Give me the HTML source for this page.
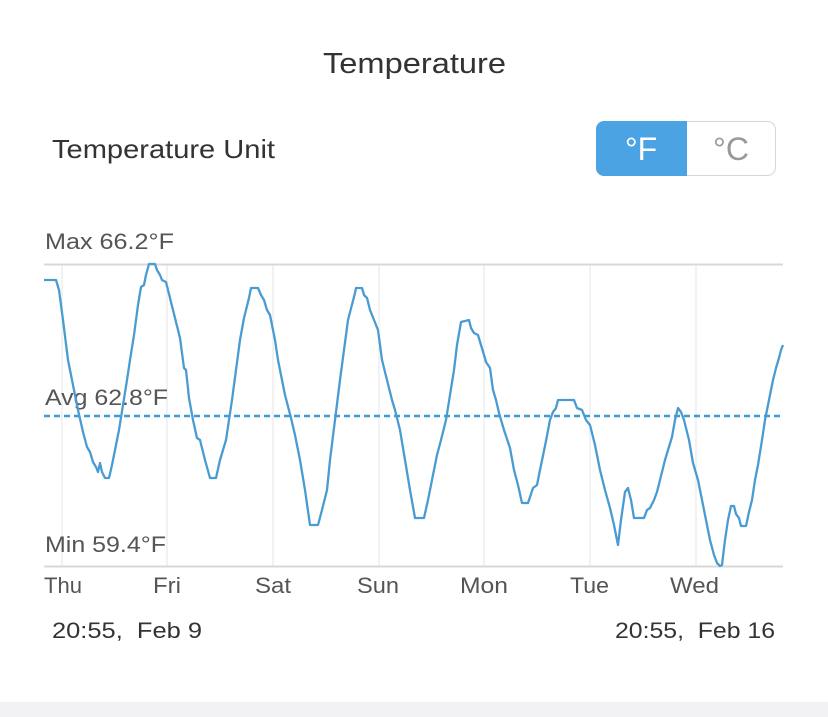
<!DOCTYPE html>
<html><head><meta charset="utf-8"><style>
html,body{margin:0;padding:0;background:#fff;}
body{width:828px;height:717px;position:relative;overflow:hidden;font-family:"Liberation Sans",sans-serif;}
</style></head><body>
<svg width="828" height="717" viewBox="0 0 828 717" xmlns="http://www.w3.org/2000/svg" style="position:absolute;left:0;top:0">
<rect x="0" y="702" width="828" height="15" fill="#f2f2f4"/>
<text x="323" y="73" textLength="183" lengthAdjust="spacingAndGlyphs" font-family="Liberation Sans, sans-serif" font-size="29" fill="#333">Temperature</text>
<text x="52" y="158" textLength="223" lengthAdjust="spacingAndGlyphs" font-family="Liberation Sans, sans-serif" font-size="26" fill="#333">Temperature Unit</text>
<rect x="596.5" y="121.5" width="179" height="54" rx="8" fill="#fff" stroke="#d6d6d6"/>
<path d="M604 121 H687 V176 H604 A8 8 0 0 1 596 168 V129 A8 8 0 0 1 604 121 Z" fill="#4ba3e3"/>
<text x="641" y="160" text-anchor="middle" font-family="Liberation Sans, sans-serif" font-size="32" fill="#fff">°F</text>
<text x="731" y="160" text-anchor="middle" font-family="Liberation Sans, sans-serif" font-size="32" fill="#999">°C</text>
<g stroke="#e6e6e6" stroke-width="1">
<line x1="62" y1="264" x2="62" y2="566"/><line x1="167" y1="264" x2="167" y2="566"/><line x1="273" y1="264" x2="273" y2="566"/><line x1="379" y1="264" x2="379" y2="566"/><line x1="484" y1="264" x2="484" y2="566"/><line x1="590" y1="264" x2="590" y2="566"/><line x1="696" y1="264" x2="696" y2="566"/>
</g>
<line x1="44" y1="264.5" x2="783" y2="264.5" stroke="#d8d8d8" stroke-width="2"/>
<line x1="44" y1="566.5" x2="783" y2="566.5" stroke="#d8d8d8" stroke-width="2"/>
<line x1="44" y1="416" x2="783" y2="416" stroke="#3d9bd6" stroke-width="2.5" stroke-dasharray="6,4"/>
<g font-family="Liberation Sans, sans-serif" font-size="22" fill="#555" lengthAdjust="spacingAndGlyphs">
<text x="45" y="249" textLength="129" lengthAdjust="spacingAndGlyphs">Max 66.2°F</text>
<text x="45" y="405" textLength="123" lengthAdjust="spacingAndGlyphs">Avg 62.8°F</text>
<text x="45" y="552" textLength="121" lengthAdjust="spacingAndGlyphs">Min 59.4°F</text>
<text x="44" y="593" textLength="38" lengthAdjust="spacingAndGlyphs">Thu</text>
<text x="153" y="593" textLength="28" lengthAdjust="spacingAndGlyphs">Fri</text>
<text x="255" y="593" textLength="36" lengthAdjust="spacingAndGlyphs">Sat</text>
<text x="357" y="593" textLength="42" lengthAdjust="spacingAndGlyphs">Sun</text>
<text x="460" y="593" textLength="48" lengthAdjust="spacingAndGlyphs">Mon</text>
<text x="570" y="593" textLength="39" lengthAdjust="spacingAndGlyphs">Tue</text>
<text x="670" y="593" textLength="49" lengthAdjust="spacingAndGlyphs">Wed</text>
</g>
<g font-family="Liberation Sans, sans-serif" font-size="22" fill="#333">
<text x="52" y="638" textLength="150" lengthAdjust="spacingAndGlyphs" xml:space="preserve">20:55,  Feb 9</text>
<text x="615" y="638" textLength="160" lengthAdjust="spacingAndGlyphs" xml:space="preserve">20:55,  Feb 16</text>
</g>
<polyline fill="none" stroke="#4a9bd2" stroke-width="2.3" stroke-linejoin="round" points="44,280 56,280 59,290 63,320 68,360 72,380 78,410 83,432 87,447 90,452 93,462 96,467 98,472 100,463 102,472 105,478 109,478 112,465 116,445 119,430 123,405 127,380 130,360 134,335 138,305 141,287 144,285 146,275 149,264 155,264 157,270 160,275 162,280 166,282 170,298 175,318 180,338 184,368 186,370 189,398 193,420 197,438 200,440 205,460 210,478 216,478 220,460 226,440 229,420 232,400 236,370 240,340 244,318 249,298 251,288 258,288 261,295 264,300 267,310 270,315 275,340 278,360 282,380 285,395 291,418 295,435 300,460 305,490 310,525 318,525 322,510 327,490 330,460 335,420 340,380 344,350 348,320 355,293 356,288 362,288 364,295 367,298 370,310 376,325 378,330 382,360 387,380 392,400 395,410 400,430 405,460 410,490 415,518 424,518 428,500 432,480 437,455 441,440 446,420 450,395 454,370 457,345 461,322 469,320 471,328 474,333 478,335 484,355 486,362 490,368 493,390 496,400 499,413 504,430 510,448 514,470 518,485 522,503 528,503 533,488 537,485 540,470 545,446 550,420 553,412 556,408 558,400 574,400 577,408 582,410 586,420 590,425 595,445 600,470 605,490 610,508 614,525 618,545 621,520 625,492 628,488 631,500 634,518 644,518 647,510 650,508 654,500 657,492 660,480 665,460 668,450 672,437 675,420 678,408 681,412 684,420 689,440 693,463 698,480 702,500 706,520 710,540 714,555 717,563 720,566 722,565 725,540 728,520 731,506 734,506 736,514 739,518 741,526 746,526 749,512 752,500 755,480 758,465 762,440 765,420 768,405 771,390 773,380 776,368 779,358 781,350 783,345"/>
</svg>
</body></html>
